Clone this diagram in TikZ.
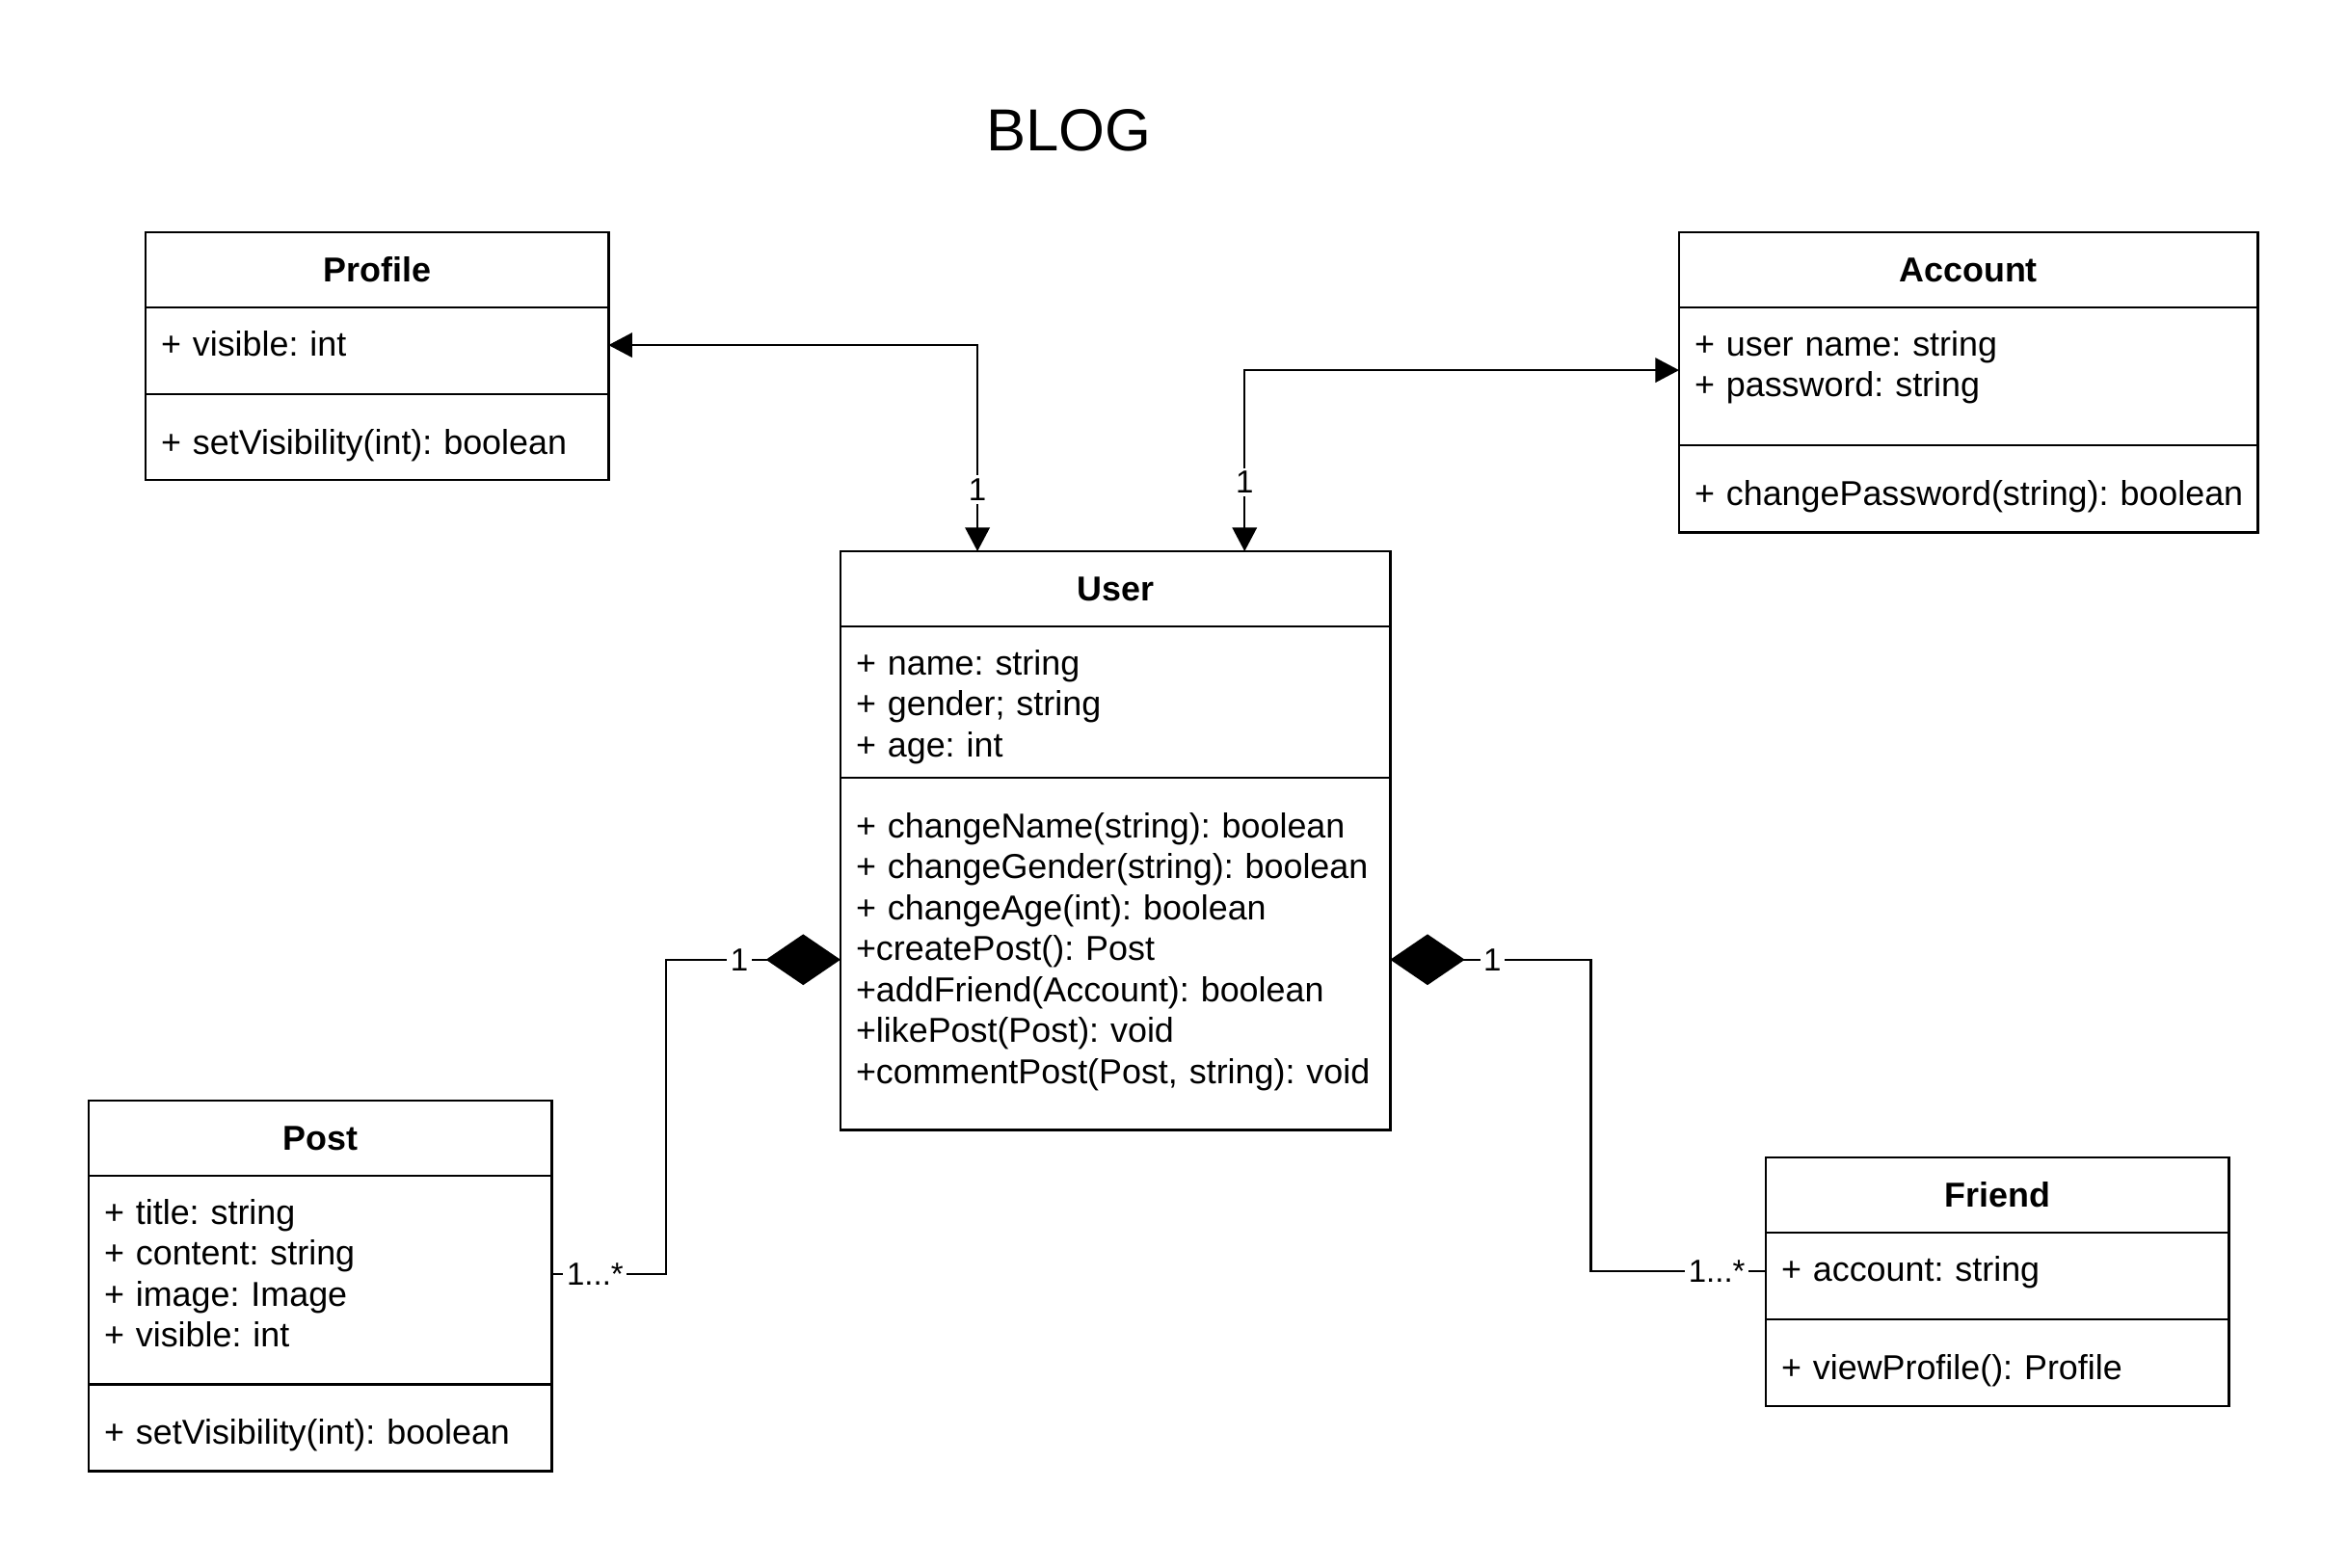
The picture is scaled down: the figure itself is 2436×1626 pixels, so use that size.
\documentclass[tikz,border=0pt]{standalone}
\usepackage{fontspec}
\setmainfont{Liberation Sans}
\usetikzlibrary{positioning,arrows.meta}

\begin{document}
\begin{tikzpicture}[
	x=0.01cm, y=-0.01cm,
	font=\fontsize{10.2}{12.1}\selectfont\frenchspacing,
	cls/.style={ draw, line width=0.75pt, outer sep=0pt, inner xsep=0.16cm, inner ysep=0pt, text width=#1-0.32cm },
	classhead/.style={ cls=#1, anchor=north west, minimum height=0.78cm, align=center, font=\fontsize{10.2}{12.1}\selectfont\bfseries },
	attrs/.style 2 args={ cls=#1, align=left, text height=0.5cm, text depth=#2-0.5cm },
	meths/.style 2 args={ cls=#1, align=left, text height=0.62cm, text depth=#2-0.62cm },
	mult/.style={ fill=white, inner sep=1pt, font=\fontsize{9.4}{11}\selectfont },
	assoc/.style={ line width=0.7pt, {Triangle[length=7pt,width=7.2pt]}-{Triangle[length=7pt,width=7.2pt]} },
	compos/.style={ line width=0.7pt, {Diamond[length=22pt,width=15pt]}- }
]
\useasboundingbox (0,0) rectangle (2436,1626);

\node at (1109,135) (title) [font=\fontsize{17.5}{21}\selectfont] {BLOG};

\node at (151,241) (profile) [classhead=4.8cm] {Profile};
\node (profile-a) [attrs={4.8cm}{0.9cm}, below=0pt of profile] {+ visible: int};
\node (profile-m) [meths={4.8cm}{0.89cm}, below=0pt of profile-a] {+ setVisibility(int): boolean};

\node at (1742,241) (account) [classhead=6cm] {Account};
\node (account-a) [attrs={6cm}{1.43cm}, below=0pt of account] {+ user name: string\\+ password: string};
\node (account-m) [meths={6cm}{0.9cm}, below=0pt of account-a] {\mbox{+ changePassword(string): boolean}};

\node at (872,572) (user) [classhead=5.7cm] {User};
\node (user-a) [attrs={5.7cm}{1.57cm}, below=0pt of user] {+ name: string\\+ gender; string\\+ age: int};
\node (user-m) [meths={5.7cm}{3.65cm}, below=0pt of user-a] {+ changeName(string): boolean\\+ changeGender(string): boolean\\+ changeAge(int): boolean\\+createPost(): Post\\+addFriend(Account): boolean\\+likePost(Post): void\\+commentPost(Post, string): void};

\node at (92,1142) (post) [classhead=4.8cm] {Post};
\node (post-a) [attrs={4.8cm}{2.16cm}, below=0pt of post] {+ title: string\\+ content: string\\+ image: Image\\+ visible: int};
\node (post-m) [meths={4.8cm}{0.9cm}, below=0pt of post-a] {+ setVisibility(int): boolean};

\node at (1832,1201) (friend) [classhead=4.8cm] {Friend};
\node (friend-a) [attrs={4.8cm}{0.9cm}, below=0pt of friend] {+ account: string};
\node (friend-m) [meths={4.8cm}{0.9cm}, below=0pt of friend-a] {+ viewProfile(): Profile};

\draw[assoc] ([yshift=0.06cm]profile-a.east) -| ([xshift=-1.43cm]user.north) node[mult, pos=0.85] {1};
\draw[assoc] ([xshift=1.34cm]user.north) |- ([yshift=0.065cm]account-a.west) node[mult, pos=0.19] {1};
\draw[compos] ([yshift=-0.06cm]user-m.west) -- node[mult, pos=0.58] {1} ++(-181,0) |- ([yshift=0.06cm]post-a.east) node[mult, pos=0.81] {1...*};
\draw[compos] ([yshift=-0.06cm]user-m.east) -- node[mult, pos=0.51] {1} ++(208,0) |- ([yshift=0.05cm]friend-a.west) node[mult, pos=0.86] {1...*};

\end{tikzpicture}
\end{document}
